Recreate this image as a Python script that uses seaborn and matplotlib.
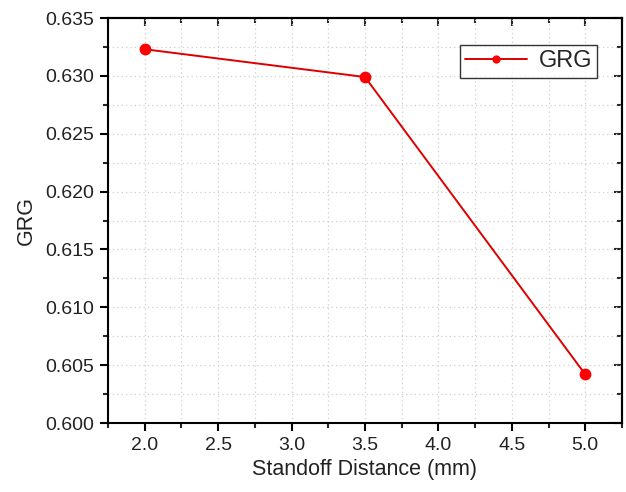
import matplotlib
matplotlib.use("Agg")
import matplotlib.pyplot as plt
import seaborn as sns
import pandas as pd
from matplotlib.ticker import MultipleLocator

standoff = [2.0, 3.5, 5.0]
grg = [0.6323, 0.6299, 0.6042]
series_name = "GRG"

sns.set_style("white")
plt.rcParams['font.family'] = ['Liberation Sans', 'DejaVu Sans']

df = pd.DataFrame({"Standoff Distance (mm)": standoff, "GRG": grg, "series": series_name})

fig = plt.figure(figsize=(6.26, 4.92), dpi=100)
ax = fig.add_axes([0.1725, 0.1402, 0.8211, 0.8232])

sns.lineplot(data=df, x="Standoff Distance (mm)", y="GRG", hue="series",
             palette=["#dd0000"], marker="o", markersize=8.5, markeredgewidth=0,
             markerfacecolor="#ff0000", linewidth=1.4, ax=ax)

ax.set_xlim(1.75, 5.25)
ax.set_ylim(0.600, 0.635)
ax.xaxis.set_major_locator(MultipleLocator(0.5))
ax.xaxis.set_minor_locator(MultipleLocator(0.25))
ax.yaxis.set_major_locator(MultipleLocator(0.005))
ax.yaxis.set_minor_locator(MultipleLocator(0.0025))
ax.xaxis.set_major_formatter(matplotlib.ticker.FormatStrFormatter("%.1f"))
ax.yaxis.set_major_formatter(matplotlib.ticker.FormatStrFormatter("%.3f"))

ax.grid(True, which="both", color="#cfcfcf", linestyle=(0, (1, 2.5)), linewidth=0.9)
for s in ax.spines.values():
    s.set_visible(True)
    s.set_color("black")
    s.set_linewidth(1.5)

ax.tick_params(axis="both", which="major", direction="out", length=6, width=1.5,
               labelsize=14, colors="black", labelcolor="#222222", pad=4)
ax.tick_params(axis="both", which="minor", direction="out", length=3.5, width=1.5)
ax.tick_params(which="both", bottom=True, left=True)

axt = ax.secondary_xaxis("top")
axt.xaxis.set_major_locator(MultipleLocator(0.5))
axt.xaxis.set_minor_locator(MultipleLocator(0.25))
axt.tick_params(which="major", direction="in", length=6, width=1.5, labeltop=False)
axt.tick_params(which="minor", direction="in", length=3.5, width=1.5)
axt.spines["top"].set_linewidth(1.5)
axr = ax.secondary_yaxis("right")
axr.yaxis.set_major_locator(MultipleLocator(0.005))
axr.yaxis.set_minor_locator(MultipleLocator(0.0025))
axr.tick_params(which="major", direction="in", length=6, width=1.5, labelright=False)
axr.tick_params(which="minor", direction="in", length=3.5, width=1.5)
axr.spines["right"].set_linewidth(1.5)

ax.set_xlabel("Standoff Distance (mm)", fontsize=15.5, color="#222222", labelpad=4)
ax.set_ylabel("GRG", fontsize=15.5, color="#222222", labelpad=6)

leg = ax.legend(loc="upper right", bbox_to_anchor=(0.952, 0.933), fontsize=17,
                frameon=True, fancybox=False, edgecolor="black", handlelength=2.6,
                handletextpad=0.5, markerscale=0.7, borderpad=0.22, borderaxespad=0)
leg.get_frame().set_linewidth(1.0)

fig.savefig("out.png", dpi=100)
